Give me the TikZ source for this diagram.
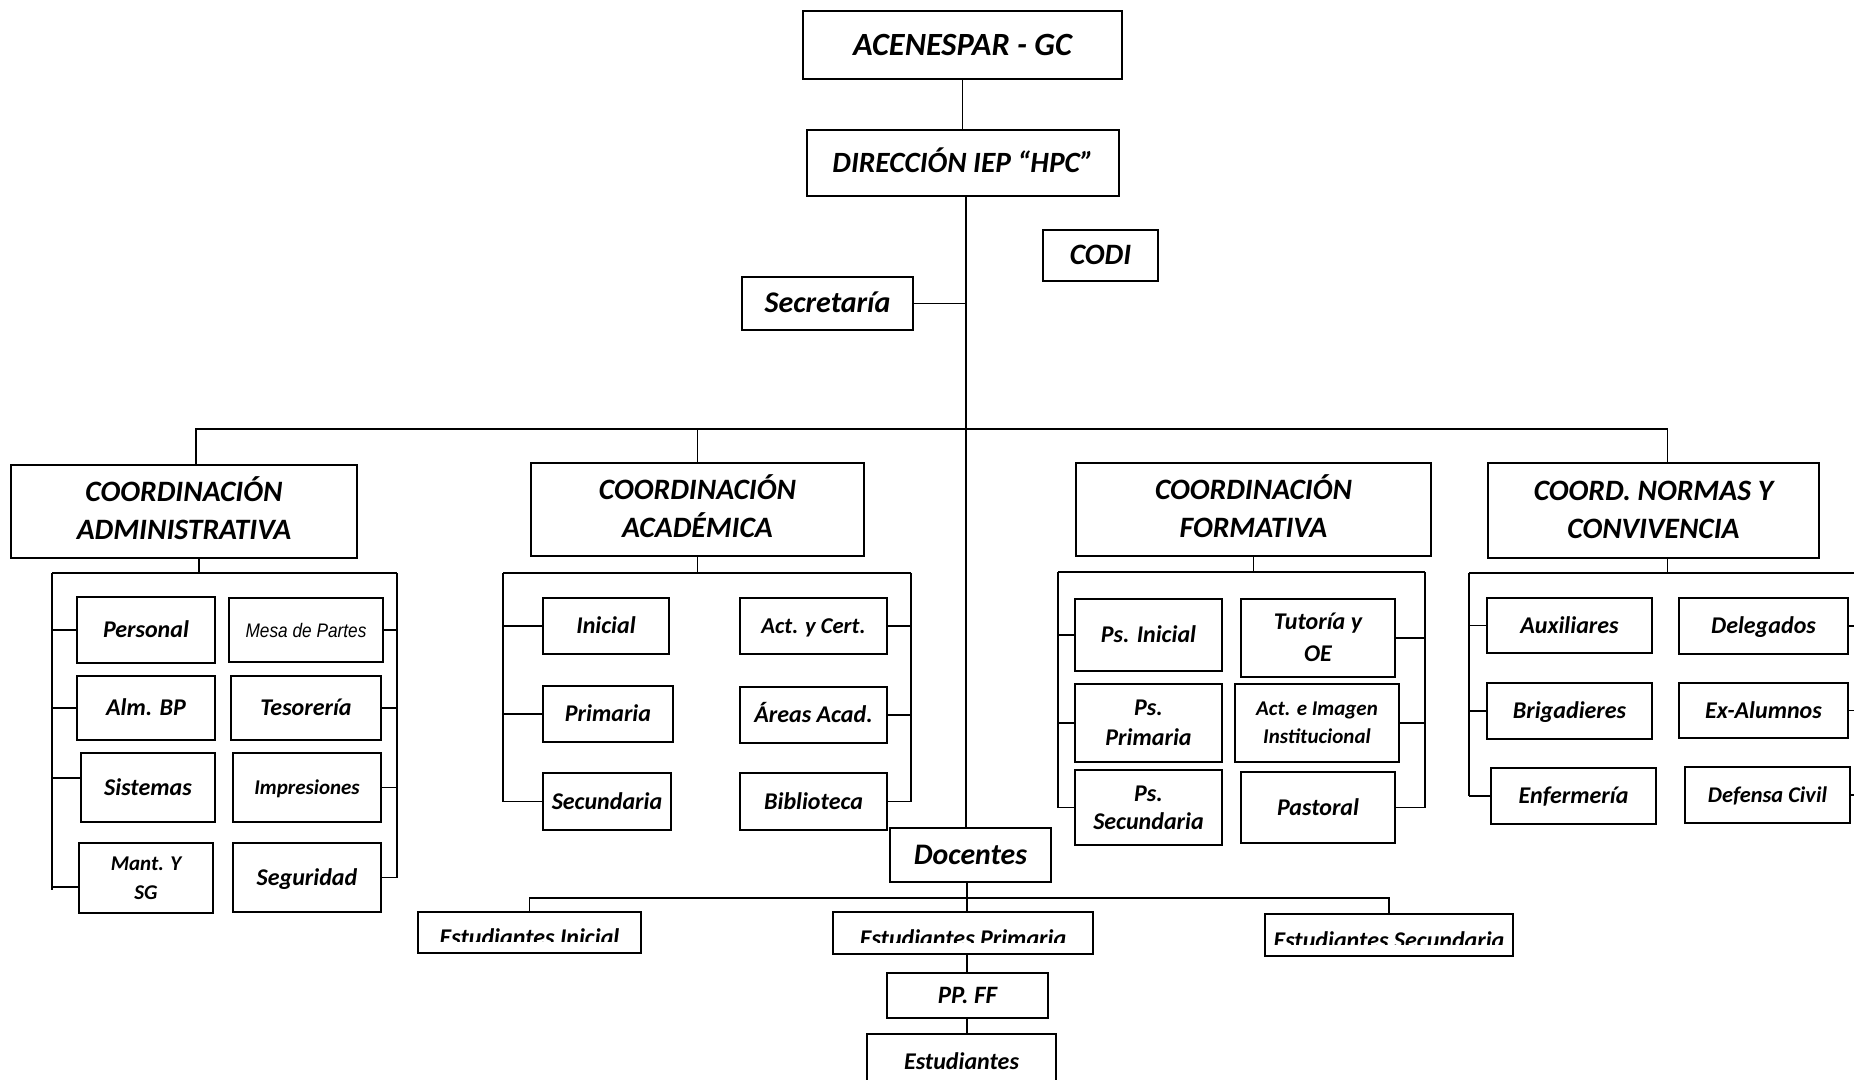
\documentclass[tikz,border=0pt]{standalone}
\usepackage{fontspec}
\setmainfont{Carlito}[BoldItalicFont={Carlito Bold Italic}]
\newfontfamily\arialfont{Liberation Sans}[FakeStretch=0.88]
\usetikzlibrary{positioning}

\newcommand{\twolines}[3]{\vbox{\baselineskip=#1\relax\halign{\hfil##\hfil\cr#2\cr#3\cr}}}

\tikzset{
	span/.style args={#1/#2/#3/#4}{at={({(#1+#3)/2},{(#2+#4)/2})},
		minimum width={(#3-#1)*0.5pt}, minimum height={(#4-#2)*0.5pt}},
	fs/.style={font=\bfseries\itshape\fontsize{#1}{#1}\selectfont, text height={0.632*#1pt}, text depth=0pt},
	pair/.style 2 args={fs=#1, text height={0.632*#1pt+#2}},
	box/.style={draw, line width=1pt, inner sep=0pt, fs=12},
	link/.style={line width=0.7pt},
	cutbox/.style={box, path picture={
		\clip ([yshift=6pt]path picture bounding box.south west) rectangle (path picture bounding box.north east);
		\node[anchor=base, inner sep=0pt, font=\bfseries\itshape\fontsize{12}{12}\selectfont]
			at ([yshift=4pt]path picture bounding box.south) {#1};}},
}

\begin{document}
\begin{tikzpicture}[x=0.5pt, y=-0.5pt]
	\useasboundingbox[fill=white] (0,0) rectangle (1854,1080);
	%
	\node[box, fs=16.2, span=803/11/1122/79] (acen) {ACENESPAR - GC};
	\node[box, fs=14.7, span=807/130/1119/196] (dir) {DIRECCIÓN IEP “HPC”};
	\node[box, fs=14.8, span=1043/230/1158/281] (codi) {CODI};
	\node[box, fs=15, span=742/277/913/330] (sec) {Secretaría};
	%
	\node[box, pair={14.8}{19pt}, span=11/465/357/558] (adm) {\twolines{19pt}{COORDINACIÓN}{ADMINISTRATIVA}};
	\node[box, pair={14.8}{19pt}, span=531/463/864/556] (aca) {\twolines{19pt}{COORDINACIÓN}{ACADÉMICA}};
	\node[box, pair={14.8}{19pt}, span=1076/463/1431/556] (forma) {\twolines{19pt}{COORDINACIÓN}{FORMATIVA}};
	\node[box, pair={14.8}{19pt}, span=1488/463/1819/558] (nor) {\twolines{19pt}{COORD. NORMAS Y}{CONVIVENCIA}};
	%
	\node[box, span=77/597/215/663] (per) {Personal};
	\node[box, span=77/676/215/740] (alm) {Alm. BP};
	\node[box, span=81/753/215/822] (sis) {Sistemas};
	\node[box, pair={10.5}{14.5pt}, span=79/843/213/913] (mant) {\twolines{14.5pt}{Mant. Y}{SG}};
	\node[box, font=\arialfont\itshape\fontsize{9.8}{9.8}\selectfont, text height={0.716*9.8pt},
		span=229/598/383/662] (mesa) {Mesa de Partes};
	\node[box, span=231/676/381/740] (teso) {Tesorería};
	\node[box, fs=10.5, span=233/753/381/822] (impr) {Impresiones};
	\node[box, span=233/843/381/912] (segu) {Seguridad};
	%
	\node[box, span=543/598/669/654] (ini) {Inicial};
	\node[box, span=543/686/673/742] (pri) {Primaria};
	\node[box, span=543/773/671/830] (secu) {Secundaria};
	\node[box, fs=11.3, span=740/598/887/654] (act) {Act. y Cert.};
	\node[box, span=740/687/887/743] (areas) {Áreas Acad.};
	\node[box, span=740/773/887/830] (bibl) {Biblioteca};
	%
	\node[box, span=1075/599/1222/671] (psi) {Ps. Inicial};
	\node[box, pair={12}{15pt}, span=1075/684/1222/762] (psp) {\twolines{15pt}{Ps.}{Primaria}};
	\node[box, pair={12}{14pt}, span=1075/770/1222/845] (pss) {\twolines{14pt}{Ps.}{Secundaria}};
	\node[box, pair={12}{16pt}, span=1241/599/1395/677] (tut) {\twolines{16pt}{Tutoría y}{OE}};
	\node[box, pair={10.5}{14pt}, span=1235/684/1399/762] (img) {\twolines{14pt}{Act. e Imagen}{Institucional}};
	\node[box, span=1241/772/1395/843] (past) {Pastoral};
	%
	\node[box, span=1487/598/1652/653] (aux) {Auxiliares};
	\node[box, span=1487/683/1652/739] (bri) {Brigadieres};
	\node[box, span=1491/768/1656/824] (enf) {Enfermería};
	\node[box, span=1679/598/1848/654] (dele) {Delegados};
	\node[box, span=1679/683/1848/738] (exal) {Ex-Alumnos};
	\node[box, fs=11.2, span=1685/767/1850/823] (defc) {Defensa Civil};
	%
	\node[box, fs=14.9, span=890/828/1051/882] (doc) {Docentes};
	\node[cutbox={Estudiantes Inicial}, span=418/912/641/953] (ei) {};
	\node[cutbox={Estudiantes Primaria}, span=833/912/1093/954] (ep) {};
	\node[cutbox={Estudiantes Secundaria}, span=1265/914/1513/956] (es) {};
	\node[box, fs=12.5, span=887/973/1048/1018] (ppff) {PP. FF};
	\node[box, span=867/1034/1056/1090] (est) {Estudiantes};
	%
	\coordinate (bus) at (966,429);
	\draw[link] (acen) -- (acen |- dir.north);
	\draw[link] (dir.south -| bus) -- (doc.north -| bus);
	\draw[link] (sec.east) -- (sec.east -| bus);
	\draw[link] ([xshift=6pt]adm.north) -- ([xshift=6pt]adm.north |- bus) -- ([xshift=7pt]nor.north |- bus) -- ([xshift=7pt]nor.north);
	\draw[link] (aca.north) -- (aca.north |- bus);
	%
	\coordinate (admL) at (52,573);
	\coordinate (admR) at (397,573);
	\draw[link] ([xshift=7.5pt]adm.south) -- ([xshift=7.5pt]adm.south |- admL);
	\draw[link] (admL) -- (admR);
	\draw[link] (admL) -- (admL |- 0,890);
	\draw[link] (admR) -- (admR |- segu.east);
	\foreach \n in {per,alm} \draw[link] (\n.west) -- (\n.west -| admL);
	\draw[link] ([yshift=4.75pt]sis.west) -- ([yshift=4.75pt]sis.west -| admL);
	\draw[link] ([yshift=-4.5pt]mant.west) -- ([yshift=-4.5pt]mant.west -| admL);
	\foreach \n in {mesa,teso,impr,segu} \draw[link] (\n.east) -- (\n.east -| admR);
	%
	\coordinate (acaL) at (503,573);
	\coordinate (acaR) at (911,573);
	\draw[link] (aca.south) -- (aca.south |- acaL);
	\draw[link] (acaL) -- (acaR);
	\draw[link] (acaL) -- (acaL |- secu.west);
	\draw[link] (acaR) -- (acaR |- bibl.east);
	\foreach \n in {ini,pri,secu} \draw[link] (\n.west) -- (\n.west -| acaL);
	\foreach \n in {act,areas,bibl} \draw[link] (\n.east) -- (\n.east -| acaR);
	%
	\coordinate (formaL) at (1058,572);
	\coordinate (formaR) at (1425,572);
	\draw[link] (forma.south) -- (forma.south |- formaL);
	\draw[link] (formaL) -- (formaR);
	\draw[link] (formaL) -- (formaL |- pss.west);
	\draw[link] (formaR) -- (formaR |- past.east);
	\foreach \n in {psi,psp,pss} \draw[link] (\n.west) -- (\n.west -| formaL);
	\foreach \n in {tut,img,past} \draw[link] (\n.east) -- (\n.east -| formaR);
	%
	\coordinate (norL) at (1469,573);
	\coordinate (norR) at (1854,573);
	\draw[link] ([xshift=7pt]nor.south) -- ([xshift=7pt]nor.south |- norL);
	\draw[link] (norL) -- (norR);
	\draw[link] (norL) -- (norL |- enf.west);
	\foreach \n in {aux,bri,enf} \draw[link] (\n.west) -- (\n.west -| norL);
	\foreach \n in {dele,exal,defc} \draw[link] (\n.east) -- (\n.east -| norR);
	%
	\coordinate (dbus) at (967,898);
	\draw[link] (doc.south -| dbus) -- (ep.north -| dbus);
	\draw[link] (ei.north) -- (ei.north |- dbus) -- (es.north |- dbus) -- (es.north);
	\draw[link] (ep.south -| dbus) -- (ppff.north -| dbus);
	\draw[link] (ppff.south -| dbus) -- (est.north -| dbus);
\end{tikzpicture}
\end{document}
